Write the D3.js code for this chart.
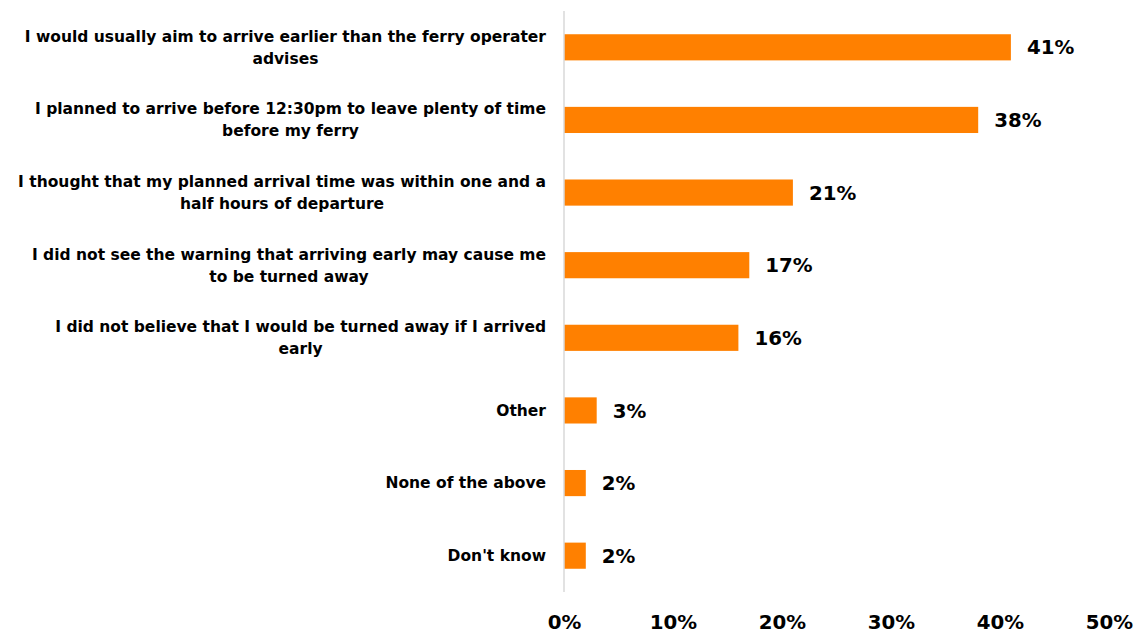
<!DOCTYPE html>
<html>
<head>
<meta charset="utf-8">
<script src="https://cdn.jsdelivr.net/npm/d3@7"></script>
<style>
  html, body { margin: 0; padding: 0; background: #fff; }
  svg { display: block; }
  text { font-family: "DejaVu Sans", sans-serif; font-weight: bold; fill: #000; }
</style>
</head>
<body>
<svg id="chart" width="1140" height="635"></svg>
<script>
// Reasons given for arriving early (share of respondents)
const categories = [
  ["I would usually aim to arrive earlier than the ferry operater", "advises"],
  ["I planned to arrive before 12:30pm to leave plenty of time", "before my ferry"],
  ["I thought that my planned arrival time was within one and a", "half hours of departure"],
  ["I did not see the warning that arriving early may cause me", "to be turned away"],
  ["I did not believe that I would be turned away if I arrived", "early"],
  ["Other"],
  ["None of the above"],
  ["Don't know"]
];
const values = [41, 38, 21, 17, 16, 3, 2, 2];
const tickValues = [0, 10, 20, 30, 40, 50];

(function draw() {
  const svg = d3.select("#chart");
  const plotLeft = 564, plotRight = 1109, plotTop = 11, plotBottom = 592;

  const x = d3.scaleLinear().domain([0, 50]).range([plotLeft, plotRight]);
  const y = d3.scaleBand()
    .domain(d3.range(categories.length))
    .range([plotTop, plotBottom])
    .paddingInner(0.64)
    .paddingOuter(0.32);

  // bars
  svg.append("g").selectAll("rect")
    .data(values)
    .join("rect")
    .attr("x", x(0))
    .attr("y", (d, i) => y(i))
    .attr("width", d => x(d) - x(0))
    .attr("height", y.bandwidth())
    .attr("fill", "#ff8000");

  // vertical axis line
  svg.append("line")
    .attr("x1", plotLeft).attr("x2", plotLeft)
    .attr("y1", plotTop).attr("y2", plotBottom)
    .attr("stroke", "#d9d9d9").attr("stroke-width", 1.5);

  // value labels
  svg.append("g").selectAll("text")
    .data(values)
    .join("text")
    .attr("x", d => x(d) + 16)
    .attr("y", (d, i) => y(i) + y.bandwidth() / 2)
    .attr("dy", "0.36em")
    .attr("font-size", 19.8)
    .text(d => d + "%");

  // category labels: block right-aligned, lines centred within block
  const labelRight = 546;
  const lineH = 22;
  const lg = svg.append("g");
  categories.forEach((lines, i) => {
    const cy = y(i) + y.bandwidth() / 2;
    const t = lg.append("text").attr("font-size", 15.5).attr("text-anchor", "middle");
    const spans = lines.map(s => t.append("tspan").text(s));
    const maxW = d3.max(spans, sp => sp.node().getComputedTextLength());
    const cx = labelRight - maxW / 2;
    spans.forEach((sp, j) => {
      sp.attr("x", cx)
        .attr("y", cy + (j - (lines.length - 1) / 2) * lineH)
        .attr("dy", "0.35em");
    });
  });

  // x axis tick labels
  const xAxis = d3.axisBottom(x).tickValues(tickValues).tickFormat(d => d + "%").tickSize(0);
  const ax = svg.append("g").attr("transform", "translate(0,612)").call(xAxis);
  ax.select(".domain").remove();
  ax.selectAll("text")
    .attr("font-size", 19.8)
    .attr("font-family", "'DejaVu Sans', sans-serif")
    .attr("font-weight", "bold")
    .attr("fill", "#000");
})();
</script>
</body>
</html>
